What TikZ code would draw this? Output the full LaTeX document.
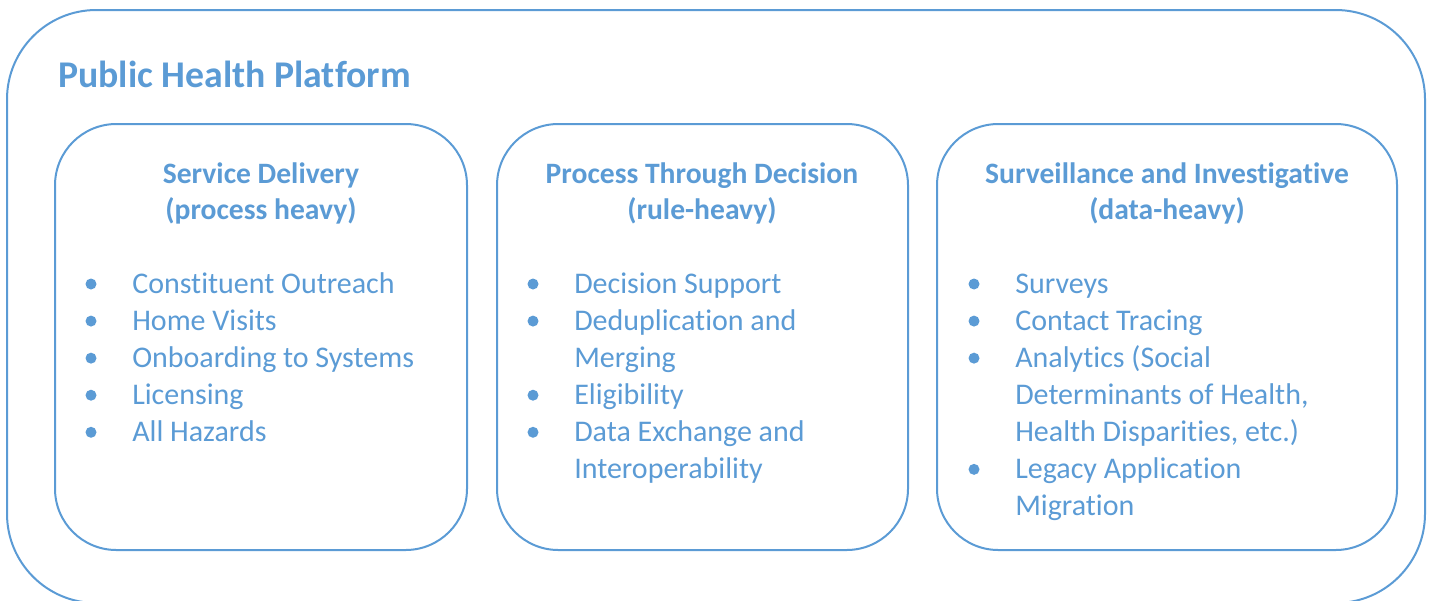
\documentclass[tikz,border=0pt]{standalone}
\usepackage{fontspec}
\setmainfont{Carlito}[Ligatures={NoCommon,NoContextual,NoRare}, RawFeature={-liga;-clig;-calt}]
\usepackage{tikz}

\definecolor{phblue}{HTML}{5B9BD5}
\newcommand{\stack}[2]{\begin{tabular}[t]{@{}#1@{}}#2\end{tabular}}

\tikzset{
    frame/.style={draw=phblue, line width=1.5pt, rounded corners=46pt},
    title/.style={font=\bfseries\fontsize{28.3}{34}\selectfont, text=phblue, inner sep=0pt, anchor=base west},
    header/.style={font=\bfseries\fontsize{22.2}{27}\selectfont, text=phblue, inner sep=0pt, anchor=base},
    entries/.style={font=\fontsize{22.5}{27.8}\selectfont, text=phblue, inner sep=0pt, anchor=base west},
    dot/.style={fill=phblue}
}

\begin{document}
\begin{tikzpicture}[x=0.75pt, y=-0.75pt]
    \useasboundingbox (0,0) rectangle (1433,600);
    \clip (0,0) rectangle (1433,600);

    % Platform
    \draw[frame, rounded corners=67pt] (7,10) rectangle (1425,603);
    \node[title] (platform) at (58,87) {Public Health Platform};

    % Service Delivery
    \draw[frame] (55,124) rectangle (467,550);
    \node[header] (serviceHead) at (261,183) {\stack{c}{Service Delivery\\(process heavy)}};
    \node[entries] (serviceList) at (132,293) {\stack{l}{Constituent Outreach\\Home Visits\\Onboarding to Systems\\Licensing\\All Hazards}};
    \foreach \i in {0,1,2,3,4}
        \fill[dot] (91,{284+37.07*\i}) circle (5.5);

    % Process Through Decision
    \draw[frame] (497,124) rectangle (908,550);
    \node[header] (processHead) at (702,183) {\stack{c}{Process Through Decision\\(rule-heavy)}};
    \node[entries] (processList) at (574,293) {\stack{l}{Decision Support\\Deduplication and\\Merging\\Eligibility\\Data Exchange and\\Interoperability}};
    \foreach \i in {0,1,3,4}
        \fill[dot] (533,{284+37.07*\i}) circle (5.5);

    % Surveillance and Investigative
    \draw[frame] (937,124) rectangle (1397,550);
    \node[header] (surveyHead) at (1167,183) {\stack{c}{Surveillance and Investigative\\(data-heavy)}};
    \node[entries] (surveyList) at (1015,293) {\stack{l}{Surveys\\Contact Tracing\\Analytics (Social\\Determinants of Health,\\Health Disparities, etc.)\\Legacy Application\\Migration}};
    \foreach \i in {0,1,2,5}
        \fill[dot] (974,{284+37.07*\i}) circle (5.5);
\end{tikzpicture}
\end{document}
